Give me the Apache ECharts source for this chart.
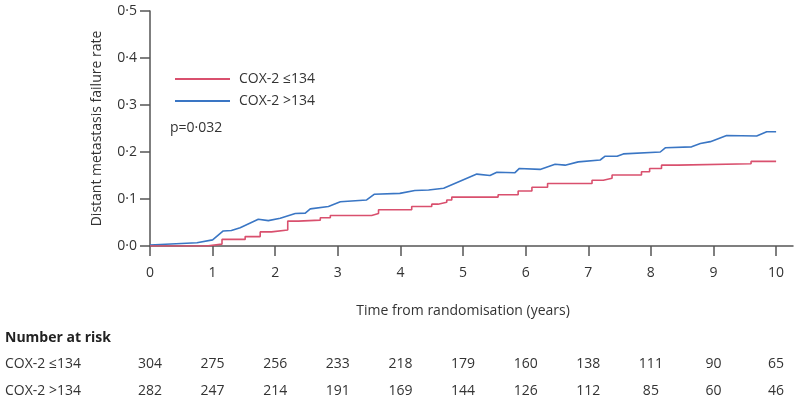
<!DOCTYPE html>
<html>
<head>
<meta charset="utf-8">
<script src="https://cdn.jsdelivr.net/npm/echarts@6/dist/echarts.min.js"></script>
<style>
html,body{margin:0;padding:0;background:#fff;}
#chart{width:800px;height:405px;}
</style>
</head>
<body>
<div id="chart"></div>
<script>
const FONT = '"Open Sans", sans-serif';
const seriesNames = ['COX-2 \u2264134', 'COX-2 >134'];
const lowData = [
  [0,0],[0.9,0.004],[1.15,0.014],[1.52,0.02],[1.76,0.030],[1.94,0.034],[2.2,0.053],[2.37,0.055],
  [2.72,0.060],[2.88,0.065],[3.54,0.069],[3.65,0.077],[4.18,0.084],[4.5,0.089],[4.6,0.093],
  [4.74,0.098],[4.82,0.104],[5.56,0.109],[5.88,0.117],[6.1,0.125],[6.35,0.133],[7.06,0.140],
  [7.24,0.144],[7.38,0.151],[7.85,0.158],[7.98,0.165],[8.17,0.172],[8.43,0.175],[9.6,0.180],[10.0,0.180]
];
const highData = [
  [0,0.002],[0.75,0.007],[1.0,0.013],[1.17,0.032],[1.3,0.033],[1.44,0.039],[1.73,0.057],[1.89,0.054],
  [2.08,0.059],[2.32,0.069],[2.48,0.070],[2.56,0.079],[2.85,0.084],[3.04,0.094],[3.46,0.098],
  [3.58,0.110],[3.99,0.112],[4.23,0.118],[4.45,0.119],[4.69,0.123],[5.22,0.153],[5.43,0.150],
  [5.54,0.157],[5.83,0.156],[5.9,0.165],[6.23,0.163],[6.47,0.174],[6.63,0.172],[6.84,0.179],
  [7.19,0.183],[7.27,0.191],[7.46,0.191],[7.56,0.196],[8.15,0.200],[8.23,0.209],[8.65,0.211],
  [8.79,0.218],[8.95,0.222],[9.21,0.235],[9.69,0.234],[9.85,0.243],[10.0,0.243]
];
const xTicks = [0,1,2,3,4,5,6,7,8,9,10];
const yTicks = [0,0.1,0.2,0.3,0.4,0.5];
const riskLow = [304,275,256,233,218,179,160,138,111,90,65];
const riskHigh = [282,247,214,191,169,144,126,112,85,60,46];
const pText = 'p=0\u00b7032';
const xTitle = 'Time from randomisation (years)';
const yTitle = 'Distant metastasis failure rate';
const riskTitle = 'Number at risk';

const AX = '#555';
const TXT = '#333';
const RED = '#d9506e';
const BLUE = '#3a76c4';
const chart = echarts.init(document.getElementById('chart'));
const fmt = v => v.toFixed(1).replace('.', '\u00b7');
chart.setOption({
  animation: false,
  grid: {left: 150, right: 7, top: 11, bottom: 159, containLabel: false},
  legend: {
    orient: 'vertical', left: 170, top: 67, itemWidth: 55, itemHeight: 2, itemGap: 8,
    icon: 'rect',
    data: seriesNames,
    textStyle: {fontFamily: FONT, fontSize: 14, color: TXT, padding: [0,0,0,4]}
  },
  xAxis: {
    type: 'value', min: 0, max: 10.27,
    axisLine: {lineStyle: {color: AX, width: 1.5}},
    axisTick: {length: 10, lineStyle: {color: AX, width: 1.5}, customValues: xTicks},
    axisLabel: {customValues: xTicks, fontFamily: FONT, fontSize: 14, color: TXT, margin: 20},
    splitLine: {show: false}
  },
  yAxis: {
    type: 'value', min: 0, max: 0.5,
    axisLine: {show: true, lineStyle: {color: AX, width: 1.5}},
    axisTick: {show: true, length: 10, lineStyle: {color: AX, width: 1.5}, customValues: yTicks},
    axisLabel: {customValues: yTicks, formatter: fmt, fontFamily: FONT, fontSize: 14, color: TXT, margin: 13},
    splitLine: {show: false},
    name: yTitle, nameLocation: 'middle', nameGap: 46, nameRotate: 90,
    nameTextStyle: {fontFamily: FONT, fontSize: 14, color: TXT}
  },
  series: [
    {name: seriesNames[0], type: 'line', step: 'end', data: lowData, symbol: 'none',
     lineStyle: {color: RED, width: 1.6}, itemStyle: {color: RED}, z: 3},
    {name: seriesNames[1], type: 'line', data: highData, symbol: 'none',
     lineStyle: {color: BLUE, width: 1.6}, itemStyle: {color: BLUE}, z: 2}
  ]
});

const g = [];
const midX = chart.convertToPixel({xAxisIndex: 0}, 5);
g.push({type: 'text', x: midX, y: 311, style: {text: xTitle, font: '14px ' + FONT, fill: TXT, align: 'center', verticalAlign: 'middle'}});
g.push({type: 'text', x: 170, y: 128, style: {text: pText, font: '14px ' + FONT, fill: TXT, align: 'left', verticalAlign: 'middle'}});
g.push({type: 'text', x: 5, y: 338, style: {text: riskTitle, font: 'bold 14px ' + FONT, fill: '#222', align: 'left', verticalAlign: 'middle'}});
const rows = [[seriesNames[0], riskLow, 364], [seriesNames[1], riskHigh, 391]];
rows.forEach(([name, vals, y]) => {
  g.push({type: 'text', x: 5, y: y, style: {text: name, font: '14px ' + FONT, fill: TXT, align: 'left', verticalAlign: 'middle'}});
  vals.forEach((v, i) => {
    const px = chart.convertToPixel({xAxisIndex: 0}, xTicks[i]);
    g.push({type: 'text', x: px, y: y, style: {text: String(v), font: '14px ' + FONT, fill: TXT, align: 'center', verticalAlign: 'middle'}});
  });
});
chart.setOption({graphic: g});
</script>
</body>
</html>
